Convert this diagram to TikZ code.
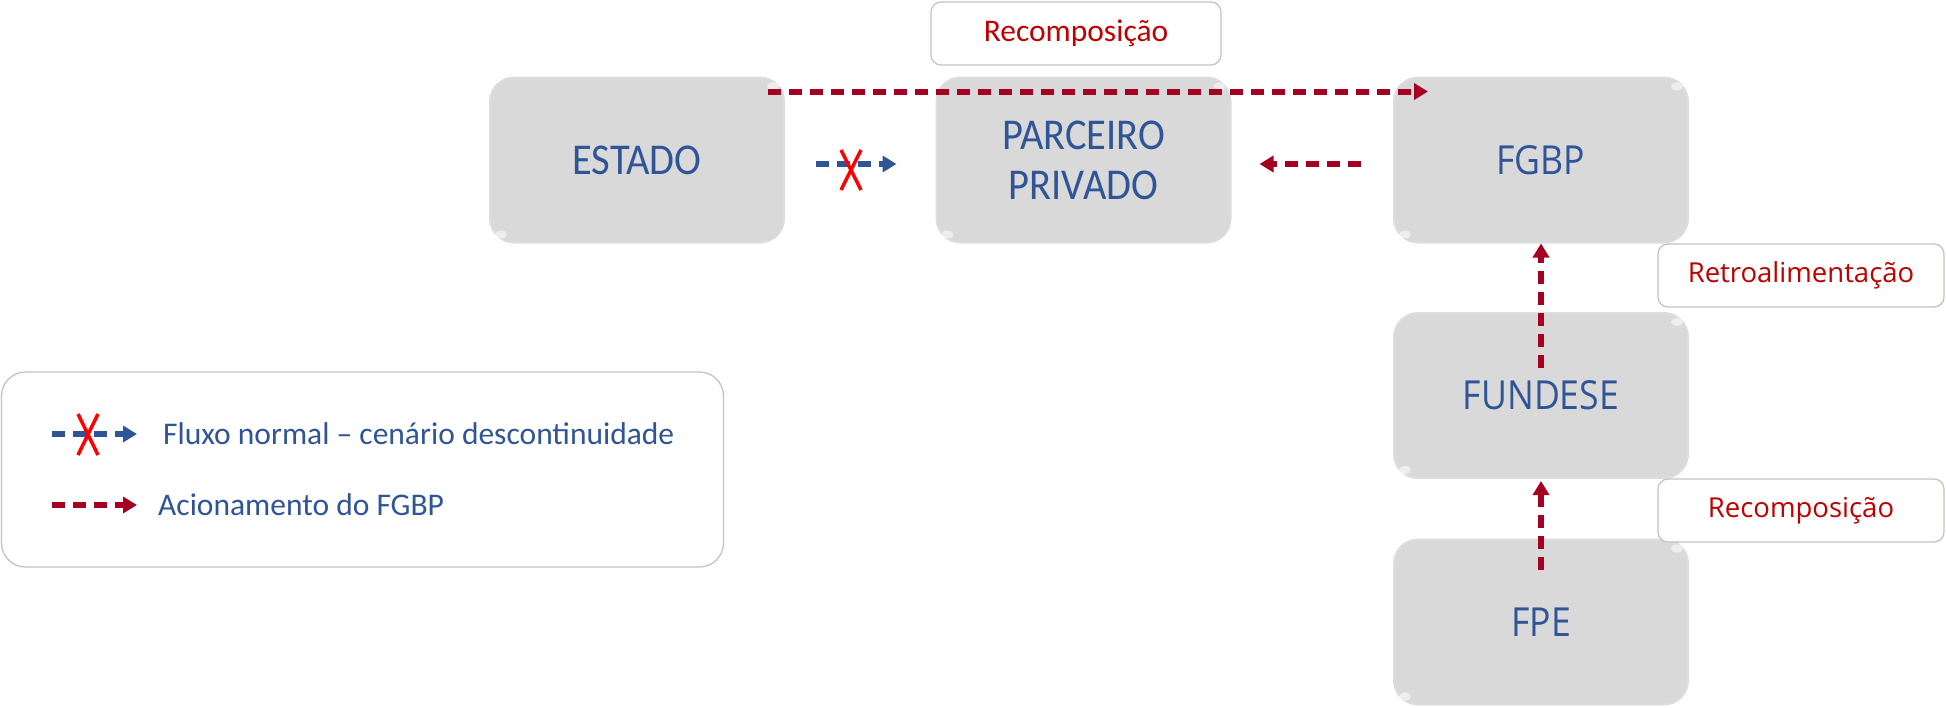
\documentclass[tikz,border=0pt]{standalone}
\usepackage{fontspec}
\setmainfont{Carlito}
\newfontfamily\condfont{Carlito}[FakeStretch=0.92]
\newfontfamily\osans{Open Sans}
\newfontfamily\osanscond{Open Sans}[FakeStretch=0.89]
\usetikzlibrary{arrows.meta,calc,shapes.geometric}
\definecolor{blueT}{HTML}{2F5597}
\definecolor{redA}{HTML}{A50021}
\definecolor{redT}{HTML}{C00000}
\definecolor{boxgray}{HTML}{D9D9D9}
\definecolor{boxedge}{HTML}{DDDDDD}
\definecolor{lblborder}{HTML}{C9C1BF}
\tikzset{
  mainbox/.style={rectangle, rounded corners=24pt, fill=boxgray, draw=boxedge, line width=2pt,
    minimum width=294pt, minimum height=165pt, inner sep=0pt, text=blueT, align=center},
  lblbox/.style={rectangle, rounded corners=10pt, fill=white, draw=lblborder, line width=1.3pt,
    minimum height=63pt, inner sep=0pt, text=redT},
  redflow/.style={draw=redA, line width=6pt, dash pattern=on 13pt off 8pt,
    -{Triangle[length=14pt,width=16pt]}},
  blueflow/.style={draw=blueT, line width=6pt, dash pattern=on 13pt off 8pt,
    -{Triangle[length=14pt,width=16pt]}},
  crossmark/.style={draw=red, line width=3.5pt},
  glint/.style={fill=white, opacity=0.55, draw=none}
}
\begin{document}
\begin{tikzpicture}[x=1pt,y=-1pt]
\useasboundingbox (0,0) rectangle (1946,707);

% main boxes
\node[mainbox, font=\condfont\fontsize{44}{50}\selectfont] (estado) at (637,160) {ESTADO};
\node[mainbox, font=\condfont\fontsize{44}{50}\selectfont] (parc) at (1083.5,160) {PARCEIRO\\PRIVADO};
\node[mainbox, font=\osanscond\fontsize{40}{46}\selectfont] (fgbp) at (1541,160) {FGBP};
\node[mainbox, font=\osanscond\fontsize{40}{46}\selectfont] (fund) at (1541,395.5) {FUNDESE};
\node[mainbox, font=\osanscond\fontsize{40}{46}\selectfont] (fpe) at (1541,622) {FPE};

% bevel glints
\foreach \b in {estado,parc,fgbp,fund,fpe}{
  \fill[glint] ($(\b.north east)+(-12,10)$) ellipse [x radius=6pt, y radius=4pt];
  \fill[glint] ($(\b.south west)+(12,-9)$) ellipse [x radius=6pt, y radius=4pt];
}

% label boxes
\node[lblbox, minimum width=290pt, font=\fontsize{31.5}{36}\selectfont] (rec1) at (1076,33.5) {Recomposição};
\node[lblbox, minimum width=286pt, font=\osans\fontsize{27.5}{32}\selectfont] (retro) at (1801,275.5) {Retroalimentação};
\node[lblbox, minimum width=286pt, font=\osans\fontsize{27.5}{32}\selectfont] (rec2) at (1801,510.5) {Recomposição};

% connectors
\draw[redflow] ($(estado.north east)+(-17,15)$) -- ($(fgbp.north west)+(35,15)$);
\draw[redflow] ($(fgbp.west)+(-32,4)$) -- ($(parc.east)+(28,4)$);
\draw[blueflow] ($(estado.east)+(31,4)$) -- ($(parc.west)+(-39,4)$);
\draw[crossmark] (841,150) -- (861,190) (861,150) -- (841,190);
\draw[redflow] ($(fund.north)+(0,56)$) -- (fgbp.south);
\draw[redflow] ($(fpe.north)+(0,31)$) -- ($(fund.south)+(0,2)$);

% legend
\node[rectangle, rounded corners=24pt, draw=lblborder, line width=1.3pt, fill=white,
  minimum width=722pt, minimum height=195pt, inner sep=0pt] (legend) at (362.5,469.5) {};
\coordinate (l1s) at (52,434);
\coordinate (l1e) at (137,434);
\coordinate (l2s) at (52,505);
\coordinate (l2e) at (137,505);
\draw[blueflow] (l1s) -- (l1e);
\draw[crossmark] (78,414) -- (98,455) (98,414) -- (78,455);
\draw[redflow] (l2s) -- (l2e);
\node[anchor=west, text=blueT, inner sep=0pt, font=\fontsize{31.5}{36}\selectfont] (lt1) at (163,434) {Fluxo normal – cenário descontinuidade};
\node[anchor=west, text=blueT, inner sep=0pt, font=\fontsize{31.5}{36}\selectfont] (lt2) at (158,505) {Acionamento do FGBP};
\end{tikzpicture}
\end{document}
